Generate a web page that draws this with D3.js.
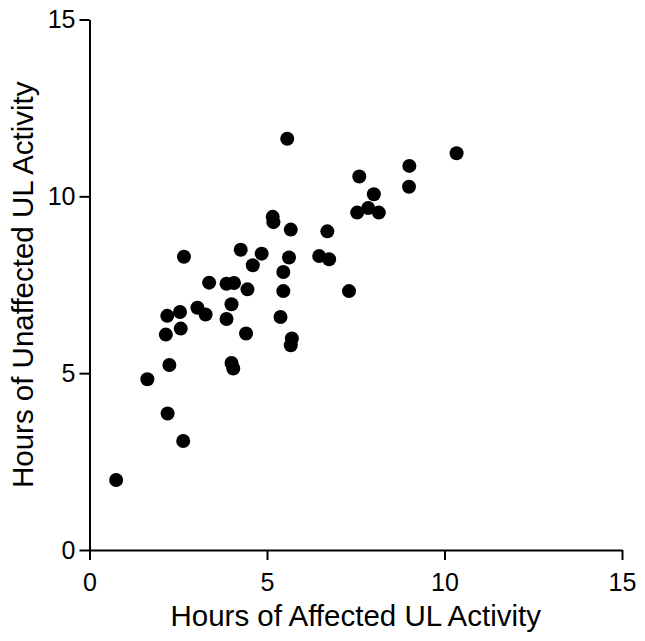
<!DOCTYPE html>
<html>
<head>
<meta charset="utf-8">
<script src="https://cdn.jsdelivr.net/npm/d3@7"></script>
<style>
  body { margin: 0; background: #fff; }
  text { font-family: Arial, "Liberation Sans", sans-serif; fill: #000; }
</style>
</head>
<body>
<div id="canvas"></div>
<script>
const width = 645;
const height = 641;

// hours of affected / unaffected upper limb activity, one entry per subject
const affected = [5.57, 5.16, 5.18, 5.67, 2.66, 4.26, 4.85, 4.60, 5.62, 5.46,
                  3.37, 3.86, 4.07, 4.45, 5.46, 4.00, 3.04, 3.27, 2.19, 2.55,
                  3.86, 5.38, 2.57, 2.15, 4.41, 5.70, 5.67, 2.25, 4.00, 4.05,
                  1.63, 2.20, 2.64, 0.75, 10.34, 9.01, 9.00, 7.60, 8.01, 7.54,
                  7.85, 8.15, 6.70, 6.47, 6.75, 7.31];
const unaffected = [11.63, 9.42, 9.27, 9.06, 8.29, 8.49, 8.38, 8.05, 8.27, 7.86,
                    7.56, 7.53, 7.55, 7.37, 7.32, 6.95, 6.85, 6.66, 6.62, 6.73,
                    6.53, 6.59, 6.26, 6.09, 6.12, 5.98, 5.79, 5.23, 5.29, 5.13,
                    4.83, 3.86, 3.08, 1.98, 11.22, 10.86, 10.27, 10.56, 10.06, 9.54,
                    9.67, 9.54, 9.01, 8.31, 8.22, 7.32];
const ticks = [0, 5, 10, 15];

const svg = d3.select("#canvas")
    .append("svg")
    .attr("width", width)
    .attr("height", height);

const x = d3.scaleLinear().domain([0, 15]).range([89.5, 622]);
const y = d3.scaleLinear().domain([0, 15]).range([550, 19.5]);

// axes
const xAxis = svg.append("g")
    .attr("transform", `translate(0, ${y(0)})`)
    .call(d3.axisBottom(x).tickValues(ticks).tickSize(10).tickPadding(13).tickSizeOuter(0));
const yAxis = svg.append("g")
    .attr("transform", `translate(${x(0)}, 0)`)
    .call(d3.axisLeft(y).tickValues(ticks).tickSize(10).tickPadding(4).tickSizeOuter(0));

[xAxis, yAxis].forEach(function(a){
    a.select(".domain").attr("stroke", "#000").attr("stroke-width", 2);
    a.selectAll(".tick line").attr("stroke", "#000").attr("stroke-width", 2);
    a.selectAll(".tick text").style("font-size", "25px").attr("fill", "#000");
});

// points
svg.append("g")
    .selectAll("circle")
    .data(affected)
    .join("circle")
    .attr("cx", d => x(d))
    .attr("cy", (d, i) => y(unaffected[i]))
    .attr("r", 7)
    .attr("fill", "#000");

// axis titles
svg.append("text")
    .attr("x", (x(0) + x(15)) / 2)
    .attr("y", 626)
    .attr("text-anchor", "middle")
    .style("font-size", "29.5px")
    .text("Hours of Affected UL Activity");

svg.append("text")
    .attr("transform", `translate(33, ${(y(0) + y(15)) / 2}) rotate(-90)`)
    .attr("text-anchor", "middle")
    .style("font-size", "29.5px")
    .text("Hours of Unaffected UL Activity");
</script>
</body>
</html>
